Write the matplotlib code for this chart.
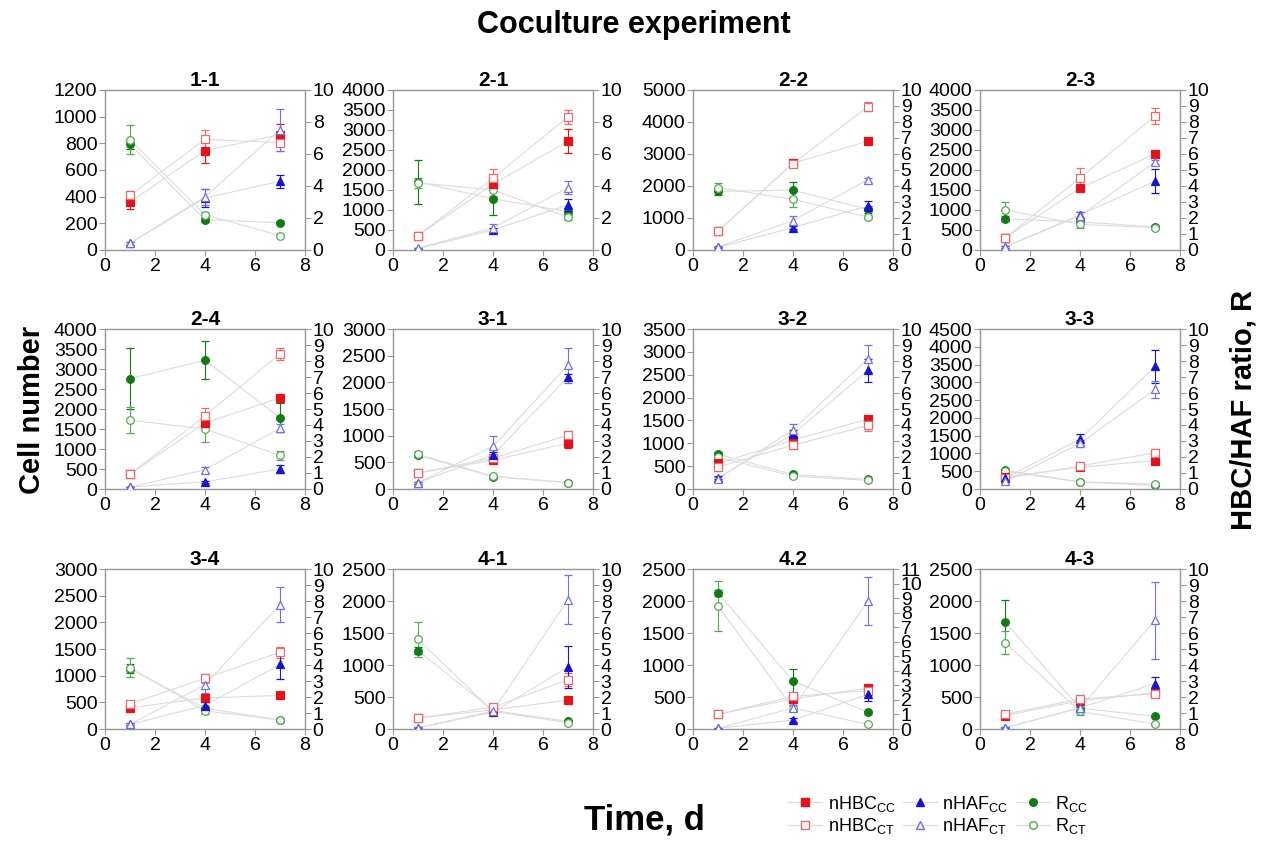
import matplotlib as mpl
mpl.use('Agg')
import matplotlib.pyplot as plt
from matplotlib.lines import Line2D

plt.rcParams['font.family'] = ['Liberation Sans', 'DejaVu Sans']

panels = ["1-1", "2-1", "2-2", "2-3", "2-4", "3-1", "3-2", "3-3", "3-4", "4-1", "4.2", "4-3"]
cell_max = [1200, 4000, 5000, 4000, 4000, 3000, 3500, 4500, 3000, 2500, 2500, 2500]
cell_step = [200, 500, 1000, 500, 500, 500, 500, 500, 500, 500, 500, 500]
ratio_max = [10, 10, 10, 10, 10, 10, 10, 10, 10, 10, 11, 10]
ratio_step = [2, 2, 1, 1, 1, 1, 1, 1, 1, 1, 1, 1]
days = [1, 4, 7]

hbc_cc = [[360, 745, 865], [360, 1650, 2720], [590, 2710, 3400], [300, 1550, 2400],
          [370, 1650, 2280], [300, 540, 860], [560, 1070, 1530], [330, 610, 800],
          [400, 580, 630], [170, 300, 450], [230, 470, 640], [210, 440, 570]]
hbc_cc_err = [[50, 90, 80], [40, 100, 300], [50, 80, 100], [100, 60, 60],
              [50, 80, 60], [40, 40, 100], [60, 70, 60], [40, 40, 40],
              [40, 40, 30], [30, 30, 30], [30, 30, 40], [40, 40, 40]]
hbc_ct = [[410, 830, 805], [360, 1800, 3330], [590, 2700, 4480], [300, 1800, 3350],
          [370, 1830, 3380], [300, 580, 1010], [480, 960, 1390], [300, 650, 1020],
          [470, 950, 1440], [170, 340, 770], [230, 510, 600], [230, 470, 550]]
hbc_ct_err = [[30, 70, 60], [40, 230, 170], [50, 100, 150], [60, 250, 200],
              [50, 200, 150], [40, 40, 80], [80, 80, 130], [40, 60, 100],
              [50, 80, 100], [30, 30, 100], [30, 40, 60], [50, 60, 50]]
haf_cc = [[50, 390, 515], [30, 500, 1130], [80, 700, 1380], [80, 880, 1720],
          [50, 180, 500], [120, 640, 2100], [250, 1200, 2600], [300, 1400, 3450],
          [90, 440, 1210], [20, 260, 970], [10, 140, 540], [20, 330, 710]]
haf_cc_err = [[10, 70, 50], [10, 60, 150], [20, 50, 150], [20, 80, 300],
              [10, 30, 100], [20, 60, 60], [40, 80, 250], [40, 150, 470],
              [20, 60, 270], [10, 30, 330], [10, 30, 100], [10, 40, 110]]
haf_ct = [[50, 400, 900], [50, 550, 1560], [100, 920, 2200], [80, 850, 2200],
          [50, 480, 1520], [120, 800, 2320], [220, 1300, 2850], [220, 1280, 2800],
          [90, 830, 2330], [20, 280, 2020], [10, 330, 2000], [20, 330, 1700]]
haf_ct_err = [[10, 60, 160], [10, 100, 170], [20, 130, 60], [20, 100, 60],
              [10, 80, 100], [20, 200, 330], [40, 130, 300], [40, 100, 250],
              [20, 150, 330], [10, 30, 380], [10, 40, 380], [10, 40, 600]]
r_cc = [[6.6, 1.9, 1.7], [4.25, 3.2, 2.4], [3.66, 3.74, 2.54], [1.95, 1.75, 1.45],
        [6.9, 8.05, 4.45], [2.1, 0.77, 0.4], [2.17, 0.91, 0.6], [1.18, 0.44, 0.22],
        [3.77, 1.3, 0.57], [4.9, 1.16, 0.48], [9.37, 3.3, 1.14], [6.7, 1.3, 0.8]]
r_cc_err = [[0.3, 0.15, 0.1], [1.4, 1.0, 0.2], [0.2, 0.5, 0.2], [0.15, 0.1, 0.1],
            [1.9, 1.2, 0.9], [0.1, 0.1, 0.05], [0.15, 0.1, 0.05], [0.1, 0.05, 0.05],
            [0.3, 0.15, 0.05], [0.2, 0.1, 0.05], [0.2, 0.8, 0.1], [1.36, 0.2, 0.1]]
r_ct = [[6.9, 2.2, 0.9], [4.2, 3.75, 2.05], [3.9, 3.16, 2.06], [2.5, 1.6, 1.4],
        [4.3, 3.75, 2.1], [2.17, 0.8, 0.4], [2.0, 0.8, 0.54], [1.1, 0.45, 0.31],
        [3.83, 1.13, 0.57], [5.6, 1.1, 0.4], [8.45, 1.45, 0.31], [5.4, 1.1, 0.3]]
r_ct_err = [[0.9, 0.2, 0.1], [0.3, 0.4, 0.2], [0.3, 0.5, 0.1], [0.5, 0.2, 0.1],
            [0.8, 0.8, 0.3], [0.2, 0.1, 0.05], [0.15, 0.1, 0.05], [0.1, 0.05, 0.05],
            [0.6, 0.2, 0.05], [1.1, 0.1, 0.05], [1.7, 0.2, 0.05], [0.7, 0.2, 0.05]]

RED, RED_L = '#e3121b', '#e86a6a'
BLUE, BLUE_L = '#1515d0', '#7070e6'
GREEN, GREEN_L = '#127a12', '#55aa55'
LINE = '#dcdcdc'
SPINE = '#9a9a9a'

# (values, errors, marker, color, filled, axis, label) ; axis 0 = cells, 1 = ratio
series = [
    (hbc_cc, hbc_cc_err, 's', RED, True, 0, 'nHBC$_{\\mathregular{CC}}$'),
    (hbc_ct, hbc_ct_err, 's', RED_L, False, 0, 'nHBC$_{\\mathregular{CT}}$'),
    (haf_cc, haf_cc_err, '^', BLUE, True, 0, 'nHAF$_{\\mathregular{CC}}$'),
    (haf_ct, haf_ct_err, '^', BLUE_L, False, 0, 'nHAF$_{\\mathregular{CT}}$'),
    (r_cc, r_cc_err, 'o', GREEN, True, 1, 'R$_{\\mathregular{CC}}$'),
    (r_ct, r_ct_err, 'o', GREEN_L, False, 1, 'R$_{\\mathregular{CT}}$'),
]

W, H = 1268, 843
fig = plt.figure(figsize=(W / 100, H / 100), dpi=100)

col_left = [105, 393, 693, 980]
row_top = [90, 329, 569]
aw, ah = 200, 160

for i, name in enumerate(panels):
    r, c = divmod(i, 4)
    l, t = col_left[c], row_top[r]
    ax = fig.add_axes([l / W, 1 - (t + ah) / H, aw / W, ah / H])
    ax2 = ax.twinx()
    ax.set_zorder(ax2.get_zorder() + 1)
    ax.patch.set_visible(False)
    for vals, errs, mk, colr, filled, which, lab in series:
        a = ax if which == 0 else ax2
        a.plot(days, vals[i], color=LINE, lw=0.8, zorder=1)
        a.errorbar(days, vals[i], yerr=errs[i], fmt=mk, ms=5.5,
                   mfc=colr if filled else 'white', mec=colr, mew=0.9,
                   ecolor=colr, elinewidth=0.8, capsize=3, capthick=0.8, zorder=3)
    ax.set_xlim(0, 8)
    ax.set_xticks([0, 2, 4, 6, 8])
    ax.set_ylim(0, cell_max[i])
    ax.set_yticks(range(0, cell_max[i] + 1, cell_step[i]))
    ax2.set_ylim(0, ratio_max[i])
    ax2.set_yticks(range(0, ratio_max[i] + 1, ratio_step[i]))
    for a in (ax, ax2):
        for s in a.spines.values():
            s.set_color(SPINE)
            s.set_linewidth(0.9)
        a.tick_params(colors=SPINE, labelcolor='black', labelsize=14,
                      length=4, width=0.8, pad=1.5)
    ax.set_title(name, fontsize=15, fontweight='bold', pad=3)

fig.text(634 / W, 1 - 25 / H, 'Coculture experiment', ha='center', va='center',
         fontsize=22, fontweight='bold')
fig.text(32 / W, 1 - 410 / H, 'Cell number', ha='center', va='center',
         rotation=90, fontsize=21, fontweight='bold')
fig.text(1243 / W, 1 - 410 / H, 'HBC/HAF ratio, R', ha='center', va='center',
         rotation=90, fontsize=21, fontweight='bold')
fig.text(644 / W, 1 - 820 / H, 'Time, d', ha='center', va='center',
         fontsize=25, fontweight='bold')

handles = []
for vals, errs, mk, colr, filled, which, lab in series:
    handles.append(Line2D([], [], color=LINE, lw=0.9, marker=mk, ms=5.5,
                          mfc=colr if filled else 'white', mec=colr, label=lab))
fig.legend(handles=handles, ncol=3, loc='center', bbox_to_anchor=(938 / W, 1 - 815 / H),
           frameon=False, fontsize=13, handlelength=1.9, columnspacing=0.4,
           labelspacing=0.15, handletextpad=0.3)

plt.savefig('out.png', dpi=100)
plt.close()
